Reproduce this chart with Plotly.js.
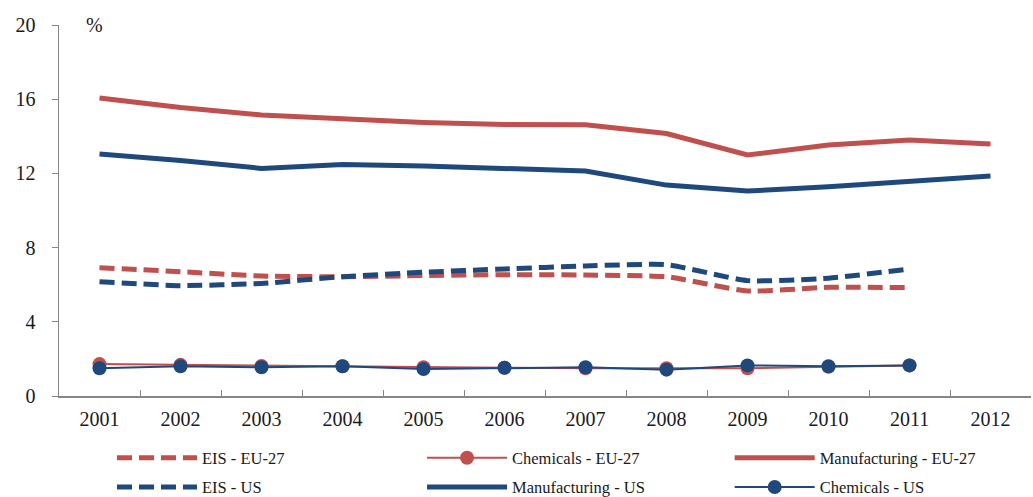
<!DOCTYPE html>
<html>
<head>
<meta charset="utf-8">
<script src="https://cdn.plot.ly/plotly-3.0.1.min.js"></script>
<style>html,body{margin:0;padding:0;background:#fff;}#chart{width:1033px;height:497px;}</style>
</head>
<body>
<div id="chart"></div>
<script>
const years = ["2001","2002","2003","2004","2005","2006","2007","2008","2009","2010","2011","2012"];
const eisEU = [6.92, 6.70, 6.47, 6.43, 6.49, 6.54, 6.52, 6.43, 5.66, 5.86, 5.84];
const eisUS = [6.16, 5.95, 6.07, 6.43, 6.67, 6.85, 7.01, 7.08, 6.22, 6.35, 6.85];
const manufEU = [16.06, 15.55, 15.15, 14.95, 14.75, 14.64, 14.62, 14.15, 12.99, 13.53, 13.80, 13.58];
const manufUS = [13.05, 12.70, 12.27, 12.48, 12.40, 12.27, 12.13, 11.37, 11.05, 11.28, 11.55, 11.86];
const chemEU = [1.72, 1.68, 1.62, 1.60, 1.55, 1.52, 1.50, 1.50, 1.50, 1.58, 1.65];
const chemUS = [1.50, 1.60, 1.55, 1.60, 1.45, 1.52, 1.55, 1.42, 1.65, 1.60, 1.65];

const RED = "#C0504D", BLUE = "#1F497D";
const FONT = "'Liberation Serif', 'Times New Roman', serif";
const TXT = "#1a1a1a";

const traces = [
  {name:"EIS - EU-27", legend:"legend", x:years.slice(0,eisEU.length), y:eisEU, mode:"lines",
   line:{color:RED, width:5, dash:"15px,7px", shape:"spline", smoothing:0.5}},
  {name:"Chemicals - EU-27", legend:"legend2", x:years.slice(0,chemEU.length), y:chemEU, mode:"lines+markers",
   line:{color:RED, width:2}, marker:{color:RED, size:14}},
  {name:"Manufacturing - EU-27", legend:"legend3", x:years, y:manufEU, mode:"lines",
   line:{color:RED, width:5}},
  {name:"EIS - US", legend:"legend4", x:years.slice(0,eisUS.length), y:eisUS, mode:"lines",
   line:{color:BLUE, width:5, dash:"15px,7px", shape:"spline", smoothing:0.5}},
  {name:"Manufacturing - US", legend:"legend5", x:years, y:manufUS, mode:"lines",
   line:{color:BLUE, width:5}},
  {name:"Chemicals - US", legend:"legend6", x:years.slice(0,chemUS.length), y:chemUS, mode:"lines+markers",
   line:{color:BLUE, width:2}, marker:{color:BLUE, size:14}}
];

function leg(x, y) {
  return {orientation:"h", x:x, xanchor:"left", y:y, yanchor:"top", itemwidth:80,
    font:{family:FONT, size:16.5, color:TXT}, bgcolor:"rgba(0,0,0,0)"};
}
const colX = [0.0545, 0.3735, 0.690];
const rowY = [-0.12, -0.199];

const layout = {
  width:1033, height:497,
  margin:{l:59, r:2, t:25, b:101, autoexpand:false},
  paper_bgcolor:"#fff", plot_bgcolor:"#fff",
  font:{family:FONT, color:TXT, size:19},
  showlegend:true,
  xaxis:{type:"category", range:[-0.5, 11.5], tickson:"boundaries", ticks:"inside", ticklen:6,
    tickcolor:"#868686", showline:true, linecolor:"#868686", linewidth:1.5, showgrid:false,
    zeroline:false, automargin:false, ticklabelstandoff:4,
    tickfont:{family:FONT, size:20, color:TXT}, fixedrange:true},
  yaxis:{range:[0,20], dtick:4, tick0:0, ticks:"outside", ticklen:6, tickcolor:"#868686",
    showline:true, linecolor:"#868686", linewidth:1.5, showgrid:false, zeroline:false,
    automargin:false, ticklabelstandoff:12, tickfont:{family:FONT, size:20, color:TXT}, fixedrange:true},
  legend:leg(colX[0], rowY[0]),
  legend2:leg(colX[1], rowY[0]),
  legend3:leg(colX[2], rowY[0]),
  legend4:leg(colX[0], rowY[1]),
  legend5:leg(colX[1], rowY[1]),
  legend6:leg(colX[2], rowY[1]),
  annotations:[{text:"%", xref:"paper", yref:"paper", x:0.037, y:1.0, xanchor:"center",
    yanchor:"middle", showarrow:false, font:{family:FONT, size:20, color:TXT}}]
};

Plotly.newPlot("chart", traces, layout, {displayModeBar:false, staticPlot:true});
</script>
</body>
</html>
